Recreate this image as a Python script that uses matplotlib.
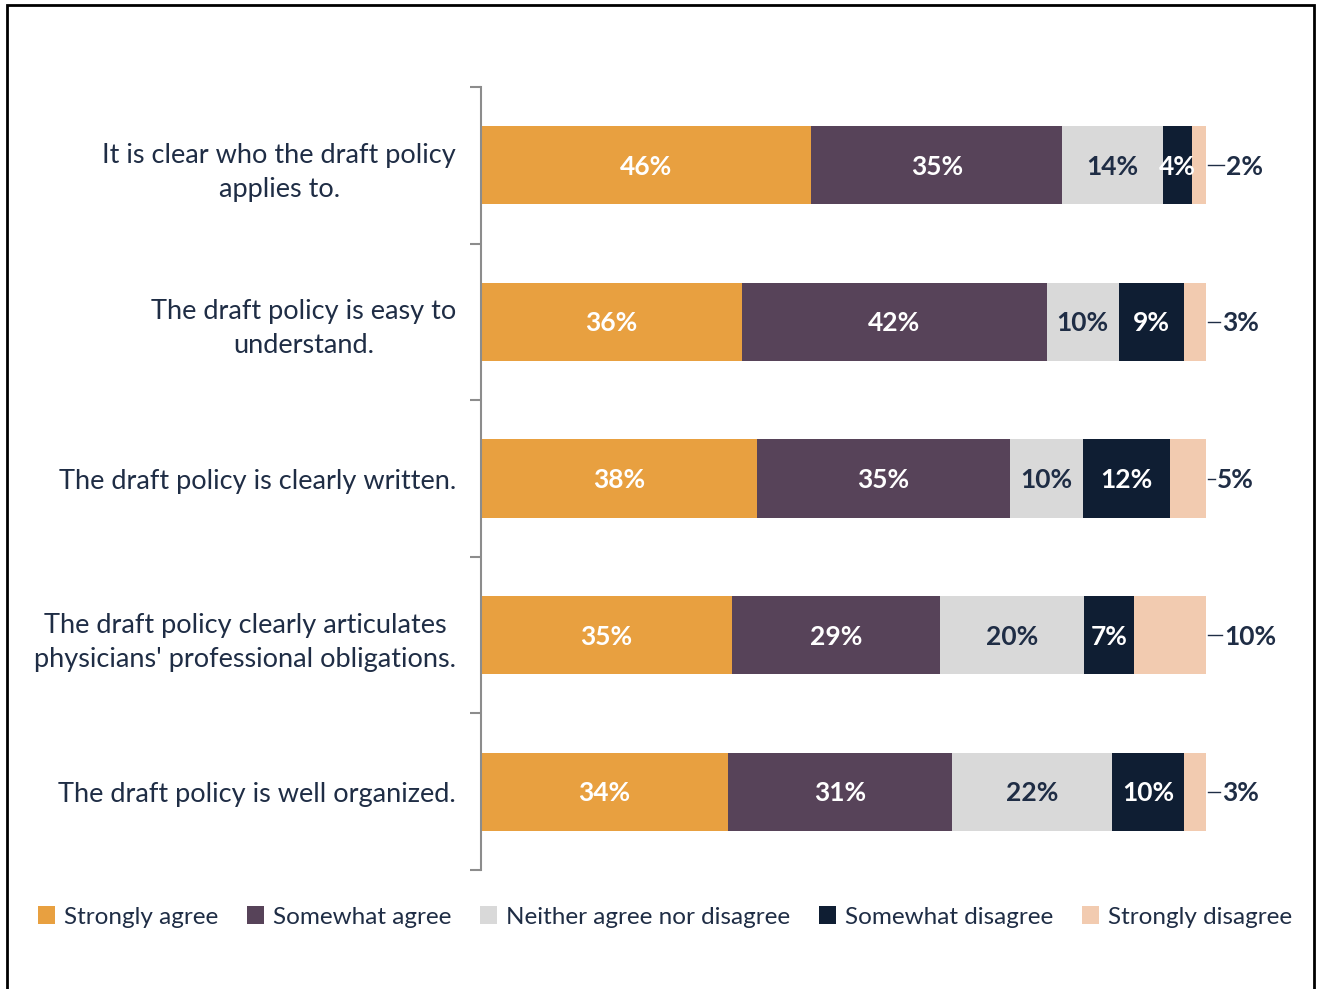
import matplotlib
matplotlib.use("Agg")
import matplotlib.pyplot as plt
from matplotlib.patches import Patch, Rectangle
import numpy as np

plt.rcParams['font.family'] = ['Lato', 'DejaVu Sans']

categories = [
    "It is clear who the draft policy\napplies to.",
    "The draft policy is easy to\nunderstand.",
    "The draft policy is clearly written.",
    "The draft policy clearly articulates\nphysicians' professional obligations.",
    "The draft policy is well organized.",
]
series_names = ["Strongly agree", "Somewhat agree", "Neither agree nor disagree",
                "Somewhat disagree", "Strongly disagree"]
strongly_agree = [46, 36, 38, 35, 34]
somewhat_agree = [35, 42, 35, 29, 31]
neither = [14, 10, 10, 20, 22]
somewhat_disagree = [4, 9, 12, 7, 10]
strongly_disagree = [2, 3, 5, 10, 3]

colors = ["#E8A040", "#574359", "#D9D9D9", "#0F1E33", "#F2CBB0"]
label_colors = ["white", "white", "#1F2D45", "white", None]
text_color = "#1F2D45"

data = np.array([strongly_agree, somewhat_agree, neither, somewhat_disagree, strongly_disagree], dtype=float)
totals = data.sum(axis=0)
norm = data / totals * 100

W, H = 1317, 989
fig = plt.figure(figsize=(W / 100, H / 100), dpi=100)
ax = fig.add_axes([481 / W, 1 - 870 / H, (1206 - 481) / W, (870 - 87) / H])

y = np.arange(len(categories))
left = np.zeros(len(categories))
for i in range(len(series_names)):
    ax.barh(y, norm[i], left=left, height=0.5, color=colors[i], label=series_names[i])
    if label_colors[i] is not None:
        for j in range(len(categories)):
            ax.text(left[j] + norm[i][j] / 2, y[j] + 0.01, f"{int(data[i][j])}%",
                    ha="center", va="center", color=label_colors[i],
                    fontsize=19, fontweight="bold")
    left += norm[i]

# leader-line labels for "Strongly disagree"
px = 100 / (1206 - 481)
line_len = [16, 12, 7, 14, 12]
for j in range(len(categories)):
    x0 = left[j] + 2 * px
    x1 = x0 + line_len[j] * px
    ax.plot([x0, x1], [y[j], y[j]], color=text_color, lw=1, clip_on=False)
    ax.text(x1 + 2 * px, y[j] + 0.01, f"{int(data[4][j])}%", ha="left", va="center",
            color=text_color, fontsize=19, fontweight="bold", clip_on=False)

ax.set_xlim(0, 100)
ax.set_ylim(len(categories) - 0.5, -0.5)
ax.set_yticks(y)
ax.set_yticklabels(categories, fontsize=19.5, color=text_color, linespacing=1.45)
for lab in ax.get_yticklabels():
    lab.set_multialignment("center")
ax.tick_params(axis="y", which="major", length=0, pad=18)
ax.set_yticks(np.arange(-0.5, len(categories) + 0.5, 1), minor=True)
ax.tick_params(axis="y", which="minor", length=8, width=1.5, color="#8C8C8C", direction="out")
ax.set_xticks([])
for s in ["top", "right", "bottom"]:
    ax.spines[s].set_visible(False)
ax.spines["left"].set_color("#8C8C8C")
ax.spines["left"].set_linewidth(1.5)

handles = [Patch(facecolor=c, edgecolor="none") for c in colors]
fig.legend(handles, series_names, loc="center", bbox_to_anchor=(665 / W, 1 - 917 / H),
           ncol=5, frameon=False, fontsize=17.5, handlelength=0.7, handleheight=0.7,
           handletextpad=0.35, columnspacing=1.2, labelcolor=text_color)

fig.patches.append(Rectangle((7 / W, -0.01), (1314 - 7) / W, (989 - 5) / H + 0.01,
                             transform=fig.transFigure, fill=False, lw=2, edgecolor="black"))

fig.savefig("out.png", dpi=100)
